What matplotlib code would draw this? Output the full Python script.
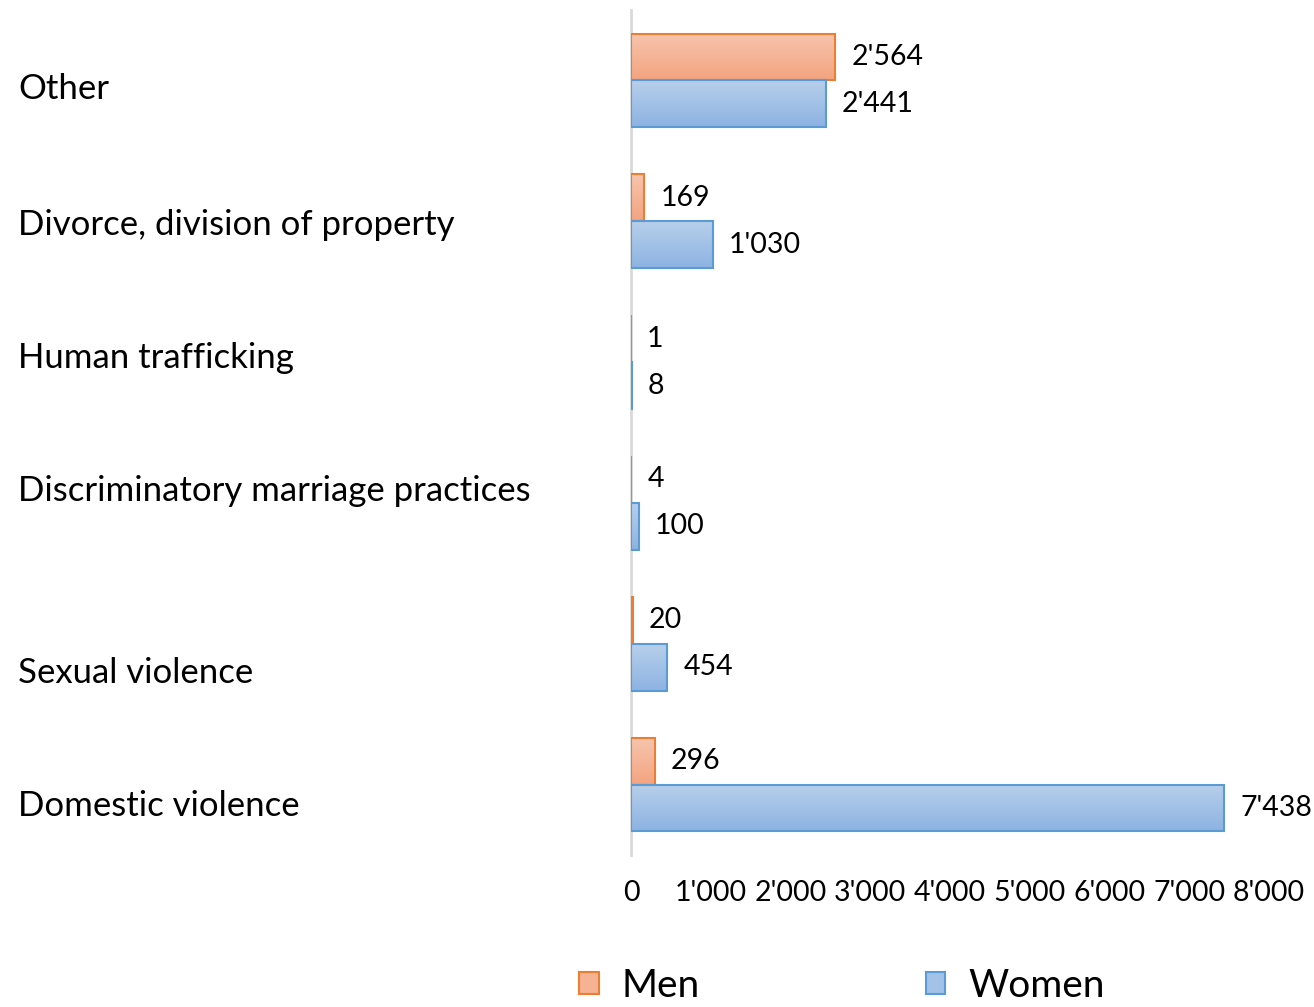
import numpy as np
import matplotlib.pyplot as plt
from matplotlib.colors import LinearSegmentedColormap
from matplotlib.patches import Patch

# data
categories = ["Other", "Divorce, division of property", "Human trafficking",
              "Discriminatory marriage practices", "Sexual violence", "Domestic violence"]
men = [2564, 169, 1, 4, 20, 296]
women = [2441, 1030, 8, 100, 454, 7438]
xticks = [0, 1000, 2000, 3000, 4000, 5000, 6000, 7000, 8000]

# label vertical nudges (pixels, positive = down)
label_dy = [9, 4, -4, -12, 29, 21]

plt.rcParams['font.family'] = ['Lato', 'DejaVu Sans']

fig = plt.figure(figsize=(13.14, 10.07), dpi=100)
ax = fig.add_axes([631 / 1314, 1 - 855 / 1007, (1269 - 631) / 1314, 845 / 1007])

fmt = lambda v: f"{v:,}".replace(",", "'")

n = len(categories)
ypos = np.arange(n)[::-1]
h = 0.333

men_cmap = LinearSegmentedColormap.from_list("m", ["#F3A47F", "#F7C4AE"])
women_cmap = LinearSegmentedColormap.from_list("w", ["#8DB3E2", "#B7CFEB"])
grad = np.linspace(0, 1, 64).reshape(-1, 1)

bars_m = ax.barh(ypos + h / 2, men, height=h, facecolor='none', edgecolor='#ED7D31', linewidth=1.5, zorder=3)
bars_w = ax.barh(ypos - h / 2, women, height=h, facecolor='none', edgecolor='#5B9BD5', linewidth=1.5, zorder=3)

# vertical gradient fill, clipped to each bar (skip bars too thin to show it)
for bars, cmap in [(bars_m, men_cmap), (bars_w, women_cmap)]:
    for b in bars:
        if b.get_width() < 50:
            continue
        x0, y0 = b.get_x(), b.get_y()
        im = ax.imshow(grad, cmap=cmap, origin='lower', aspect='auto',
                       extent=[x0, x0 + b.get_width(), y0, y0 + b.get_height()], zorder=2)
        im.set_clip_path(b)

for bars, vals in [(bars_m, men), (bars_w, women)]:
    for b, v in zip(bars, vals):
        ax.annotate(fmt(v), xy=(b.get_width(), b.get_y() + b.get_height() / 2),
                    xytext=(16, 0), textcoords='offset pixels', ha='left', va='center',
                    fontsize=20.5, color='black', annotation_clip=False)

ax.set_xlim(0, 8000)
ax.set_ylim(-0.5, n - 0.5)
ax.set_xticks(xticks)
ax.set_xticklabels([fmt(t) for t in xticks], fontsize=20.5)
ax.tick_params(axis='x', length=0, pad=18)
ax.set_yticks([])
for s in ['top', 'right', 'bottom']:
    ax.spines[s].set_visible(False)
ax.spines['left'].set_color('#D9D9D9')
ax.spines['left'].set_linewidth(2)
ax.spines['left'].set_zorder(1)

for cat, y, dy in zip(categories, ypos, label_dy):
    ax.annotate(cat, xy=(18 / 1314, y), xycoords=('figure fraction', 'data'),
                xytext=(0, -dy), textcoords='offset pixels', ha='left', va='center',
                fontsize=25, color='black')

handles = [Patch(facecolor='#F5B393', edgecolor='#ED7D31', linewidth=1.5),
           Patch(facecolor='#A3C2E7', edgecolor='#5B9BD5', linewidth=1.5)]
fig.legend(handles, ["Men", "Women"], loc='center', bbox_to_anchor=(842 / 1314, 1 - 986 / 1007),
           ncol=2, frameon=False, fontsize=28, handlelength=0.5, handleheight=0.5,
           handletextpad=0.6, columnspacing=5.8, borderpad=0.2)

fig.savefig("out.png", dpi=100)
